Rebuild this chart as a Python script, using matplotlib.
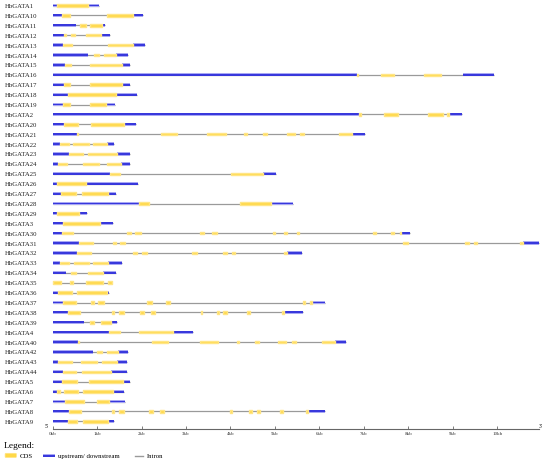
import matplotlib
matplotlib.use("Agg")
import matplotlib.pyplot as plt
from matplotlib.patches import FancyBboxPatch, Rectangle

gene_names = ["HbGATA1", "HbGATA10", "HbGATA11", "HbGATA12", "HbGATA13", "HbGATA14",
              "HbGATA15", "HbGATA16", "HbGATA17", "HbGATA18", "HbGATA19", "HbGATA2",
              "HbGATA20", "HbGATA21", "HbGATA22", "HbGATA23", "HbGATA24", "HbGATA25",
              "HbGATA26", "HbGATA27", "HbGATA28", "HbGATA29", "HbGATA3", "HbGATA30",
              "HbGATA31", "HbGATA32", "HbGATA33", "HbGATA34", "HbGATA35", "HbGATA36",
              "HbGATA37", "HbGATA38", "HbGATA39", "HbGATA4", "HbGATA40", "HbGATA42",
              "HbGATA43", "HbGATA44", "HbGATA5", "HbGATA6", "HbGATA7", "HbGATA8", "HbGATA9"]

# upstream/downstream (UTR) segments in kb
utr_segments = [
    [(0, 0.09), (0.80, 1.04)],
    [(0, 0.2), (1.80, 2.04)],
    [(0, 0.52), (1.10, 1.18)],
    [(0, 0.26), (1.09, 1.29)],
    [(0, 0.24), (1.81, 2.08)],
    [(0, 0.80), (1.42, 1.69)],
    [(0, 0.28), (1.57, 1.75)],
    [(0, 6.84), (9.24, 9.93)],
    [(0, 0.26), (1.57, 1.74)],
    [(0, 0.35), (1.42, 1.89)],
    [(0, 0.24), (1.21, 1.40)],
    [(0, 6.90), (8.92, 9.20)],
    [(0, 0.255), (1.61, 1.87)],
    [(0, 0.54), (6.73, 7.03)],
    [(0, 0.165), (1.23, 1.39)],
    [(0, 0.375), (1.45, 1.74)],
    [(0, 0.13), (1.54, 1.75)],
    [(0, 1.29), (4.74, 5.02)],
    [(0, 0.09), (0.75, 1.93)],
    [(0, 0.18), (1.25, 1.425)],
    [(0, 1.94), (4.91, 5.41)],
    [(0, 0.105), (0.60, 0.765)],
    [(0, 0.225), (1.065, 1.35)],
    [(0, 0.2), (7.84, 8.04)],
    [(0, 0.6), (10.57, 10.94)],
    [(0, 0.555), (5.28, 5.60)],
    [(0, 0.165), (1.25, 1.55)],
    [(0, 0.3), (1.125, 1.425)],
    [],
    [(0, 0.13), (1.215, 1.275)],
    [(0, 0.24), (5.84, 6.13)],
    [(0, 0.35), (5.20, 5.62)],
    [(0, 0.705), (1.31, 1.455)],
    [(0, 1.275), (2.715, 3.15)],
    [(0, 0.575), (6.35, 6.59)],
    [(0, 0.9), (1.48, 1.70)],
    [(0, 0.13), (1.455, 1.68)],
    [(0, 0.24), (1.305, 1.665)],
    [(0, 0.22), (1.575, 1.74)],
    [(0, 0.105), (1.35, 1.605)],
    [(0, 0.28), (1.275, 1.63)],
    [(0, 0.375), (5.735, 6.13)],
    [(0, 0.34), (1.24, 1.39)],
]

# CDS segments in kb
cds_segments = [
    [(0.09, 0.80)],
    [(0.2, 0.39), (1.22, 1.80)],
    [(0.62, 0.75), (0.84, 1.10)],
    [(0.26, 0.29), (0.41, 0.51), (0.75, 1.09)],
    [(0.24, 0.43), (1.24, 1.81)],
    [(0.94, 1.04), (1.16, 1.42)],
    [(0.28, 0.41), (0.84, 1.57)],
    [(6.84, 6.87), (7.39, 7.68), (8.36, 8.73)],
    [(0.26, 0.39), (0.84, 1.57)],
    [(0.35, 1.42)],
    [(0.24, 0.40), (0.84, 1.21)],
    [(6.90, 6.93), (7.45, 7.77), (8.45, 8.79), (8.88, 8.92)],
    [(0.255, 0.58), (0.86, 1.61)],
    [(0.54, 0.57), (2.44, 2.80), (3.48, 3.89), (4.31, 4.38), (4.72, 4.81),
     (5.26, 5.44), (5.57, 5.66), (6.44, 6.73)],
    [(0.165, 0.36), (0.46, 0.82), (0.90, 1.23)],
    [(0.375, 0.69), (0.80, 1.45)],
    [(0.13, 0.315), (0.675, 1.05), (1.215, 1.54)],
    [(1.29, 1.51), (4.01, 4.74)],
    [(0.09, 0.75)],
    [(0.18, 0.525), (0.65, 1.25)],
    [(1.94, 2.17), (4.21, 4.91)],
    [(0.105, 0.60)],
    [(0.225, 1.065)],
    [(0.2, 0.465), (1.68, 1.755), (1.86, 1.98), (3.315, 3.405), (3.58, 3.69),
     (4.95, 5.01), (5.21, 5.27), (5.49, 5.55), (7.21, 7.27), (7.62, 7.68), (7.81, 7.84)],
    [(0.6, 0.9), (1.35, 1.42), (1.515, 1.63), (7.89, 8.0), (9.28, 9.37),
     (9.48, 9.54), (10.51, 10.57)],
    [(0.555, 0.855), (1.815, 1.89), (2.0, 2.115), (3.13, 3.24), (3.84, 3.915),
     (4.035, 4.095), (5.21, 5.28)],
    [(0.165, 0.375), (0.49, 0.825), (0.915, 1.25)],
    [(0.405, 0.52), (0.79, 1.125)],
    [(0, 0.18), (0.38, 0.45), (0.75, 1.125), (1.25, 1.33)],
    [(0.13, 0.43), (0.555, 1.215)],
    [(0.24, 0.52), (0.855, 0.93), (1.03, 1.16), (2.115, 2.23), (2.55, 2.64),
     (5.62, 5.68), (5.78, 5.84)],
    [(0.35, 0.615), (1.33, 1.38), (1.49, 1.605), (1.965, 2.055), (2.21, 2.31),
     (3.33, 3.37), (3.705, 3.75), (3.83, 3.93), (4.365, 4.44), (5.15, 5.20)],
    [(0.84, 0.93), (1.08, 1.31)],
    [(1.275, 1.515), (1.95, 2.715)],
    [(0.575, 0.6), (2.23, 2.59), (3.315, 3.73), (4.14, 4.2), (4.54, 4.63),
     (5.06, 5.24), (5.38, 5.47), (6.05, 6.35)],
    [(1.005, 1.12), (1.23, 1.48)],
    [(0.13, 0.43), (0.64, 0.99), (1.12, 1.455)],
    [(0.24, 0.525), (0.65, 1.305)],
    [(0.22, 0.555), (0.825, 1.575)],
    [(0.105, 0.165), (0.255, 0.56), (0.69, 1.35)],
    [(0.28, 0.71), (0.99, 1.275)],
    [(0.375, 0.63), (1.33, 1.38), (1.49, 1.605), (2.175, 2.265), (2.415, 2.51),
     (3.99, 4.04), (4.425, 4.48), (4.605, 4.665), (5.115, 5.175), (5.69, 5.735)],
    [(0.34, 0.54), (0.675, 1.24)],
]

tick_values = list(range(0, 11))
tick_labels = [f"{v}kb" for v in tick_values]
axis_max = 10.95

SERIF = "Liberation Serif"
YELLOW = "#FFD848"
YELLOW_EDGE = "#FFE585"
BLUE = "#3838DC"
BLUE_LIGHT = "#A8A8F4"
GREY = "#9A9A9A"

fig = plt.figure(figsize=(5.5, 4.64), dpi=100)
ax = fig.add_axes([0, 0, 1, 1])
px_per_kb = 44.45
x0_px = 52.7
row_px = 9.9
y0_px = 6.5
ax.set_xlim(-x0_px / px_per_kb, (550 - x0_px) / px_per_kb)
ax.set_ylim((464 - y0_px) / row_px, -y0_px / row_px)
ax.set_facecolor("white")

for i, name in enumerate(gene_names):
    segs = utr_segments[i] + cds_segments[i]
    end = max(e for _, e in segs)
    start = min(s for s, _ in segs)
    ax.hlines(i, start, end, color=GREY, lw=0.9, zorder=1)
    for s, e in utr_segments[i]:
        ax.broken_barh([(s, e - s)], (i - 0.17, 0.34), facecolors=BLUE_LIGHT, zorder=2)
        ax.broken_barh([(s, e - s)], (i - 0.1, 0.2), facecolors=BLUE, zorder=3)
    for s, e in cds_segments[i]:
        ax.broken_barh([(s, e - s)], (i - 0.13, 0.26), facecolors=YELLOW,
                       edgecolors=YELLOW_EDGE, linewidth=1.0, joinstyle="round", zorder=4)
    ax.text(-1.073, i, name, va="center", ha="left", fontsize=4.9, family=SERIF,
            color="#222222")

# kb axis
axis_row = 42.78
for sp in ["top", "left", "right"]:
    ax.spines[sp].set_visible(False)
ax.spines["bottom"].set_position(("data", axis_row))
ax.spines["bottom"].set_bounds(0, axis_max)
ax.spines["bottom"].set_color("#666666")
ax.spines["bottom"].set_linewidth(0.8)
ax.set_xticks(tick_values)
ax.set_xticklabels(tick_labels, family=SERIF)
ax.tick_params(axis="x", direction="in", length=2.5, width=0.6, color="#666666",
               labelsize=3.6, pad=1.5, labelcolor="#333333")
ax.yaxis.set_visible(False)
ax.text(-0.14, axis_row - 0.35, "5'", fontsize=4, family=SERIF, ha="center", va="center")
ax.text(axis_max + 0.03, axis_row - 0.35, "3'", fontsize=4, family=SERIF, ha="center", va="center")

# legend (pixel coordinates overlay)
lg = fig.add_axes([0, 0, 1, 1])
lg.set_xlim(0, 550)
lg.set_ylim(464, 0)
lg.axis("off")
lg.patch.set_alpha(0)
lg.text(4, 446.5, "Legend:", fontsize=6.8, family=SERIF, va="center", ha="left")
lg.add_patch(FancyBboxPatch((6, 455.2), 9.5, 2.4, boxstyle="round,pad=0.9",
                            facecolor=YELLOW, edgecolor=YELLOW_EDGE, lw=0.5))
lg.text(19.5, 456.5, "CDS", fontsize=4.9, family=SERIF, va="center", ha="left")
lg.add_patch(Rectangle((43, 454.8), 11.5, 3.4, facecolor=BLUE_LIGHT, edgecolor="none"))
lg.add_patch(Rectangle((43, 455.5), 11.5, 2.0, facecolor=BLUE, edgecolor="none"))
lg.text(57.5, 456.5, "upstream/ downstream", fontsize=4.9, family=SERIF, va="center", ha="left")
lg.plot([135, 143], [456.5, 456.5], color=GREY, lw=1.0)
lg.text(147, 456.5, "Intron", fontsize=4.9, family=SERIF, va="center", ha="left")

fig.savefig("out.png", dpi=100, facecolor="white")
